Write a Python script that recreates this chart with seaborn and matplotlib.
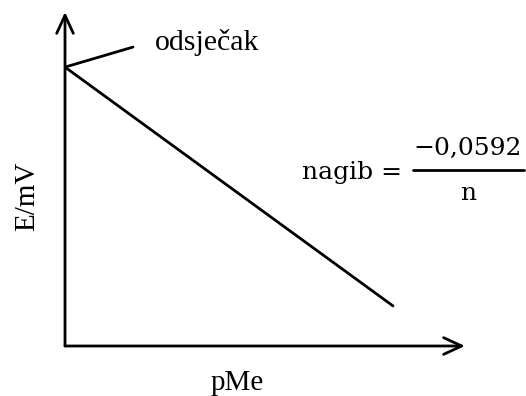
import numpy as np
import pandas as pd
import matplotlib
matplotlib.use("Agg")
import matplotlib.pyplot as plt
import seaborn as sns

# pMe vs. E line (schematic, arbitrary units)
pme = [0.0, 8.2]
e_mv = [8.35, 1.2]
x_label = "pMe"
y_label = "E/mV"
intercept_label = "odsječak"
slope_num = "−0,0592"
slope_den = "n"

sns.set_style("white")
plt.rcParams["font.family"] = ["Liberation Serif", "DejaVu Serif"]
plt.rcParams["text.color"] = "black"

fig = plt.figure(figsize=(5.26, 3.96), dpi=100)
# axes box runs from the origin (65, 346 px) to the arrow tips (465, 12 px)
ax = fig.add_axes([65 / 526, 50 / 396, 400 / 526, 334 / 396])
ax.set_xlim(0, 10)
ax.set_ylim(0, 10)
ax.axis("off")

df = pd.DataFrame({"pMe": pme, "E": e_mv})
sns.lineplot(data=df, x="pMe", y="E", color="black", linewidth=2, ax=ax)

# axis arrows
arrow = dict(arrowstyle="->,head_length=1.3,head_width=0.6", color="black",
             linewidth=2, shrinkA=0, shrinkB=0)
ax.annotate("", xy=(0, 1), xytext=(0, 0), xycoords="axes fraction",
            arrowprops=arrow)
ax.annotate("", xy=(1, 0), xytext=(0, 0), xycoords="axes fraction",
            arrowprops=arrow)

# intercept leader line and label
ax.plot([pme[0], 1.7], [e_mv[0], 8.95], color="black", linewidth=2)
ax.text(2.25, 9.1, intercept_label, fontsize=21.5, ha="left", va="center")

# axis labels
fig.text(237 / 526, 1 - 383 / 396, x_label, fontsize=21, ha="center", va="center")
fig.text(27 / 526, 1 - 196 / 396, y_label, fontsize=21, rotation=90,
         ha="center", va="center")

# slope formula
ff = "DejaVu Serif"
fig.text(352 / 526, 1 - 173 / 396, "nagib =", fontsize=18, family=ff,
         ha="center", va="center")
fig.text(468 / 526, 1 - 148 / 396, slope_num, fontsize=18, family=ff,
         ha="center", va="center")
fig.text(468 / 526, 1 - 193 / 396, slope_den, fontsize=18, family=ff,
         ha="center", va="center")
fig.add_artist(plt.Line2D([413 / 526, 524 / 526], [1 - 170 / 396, 1 - 170 / 396],
                          color="black", linewidth=2))

fig.savefig("out.png", dpi=100)
